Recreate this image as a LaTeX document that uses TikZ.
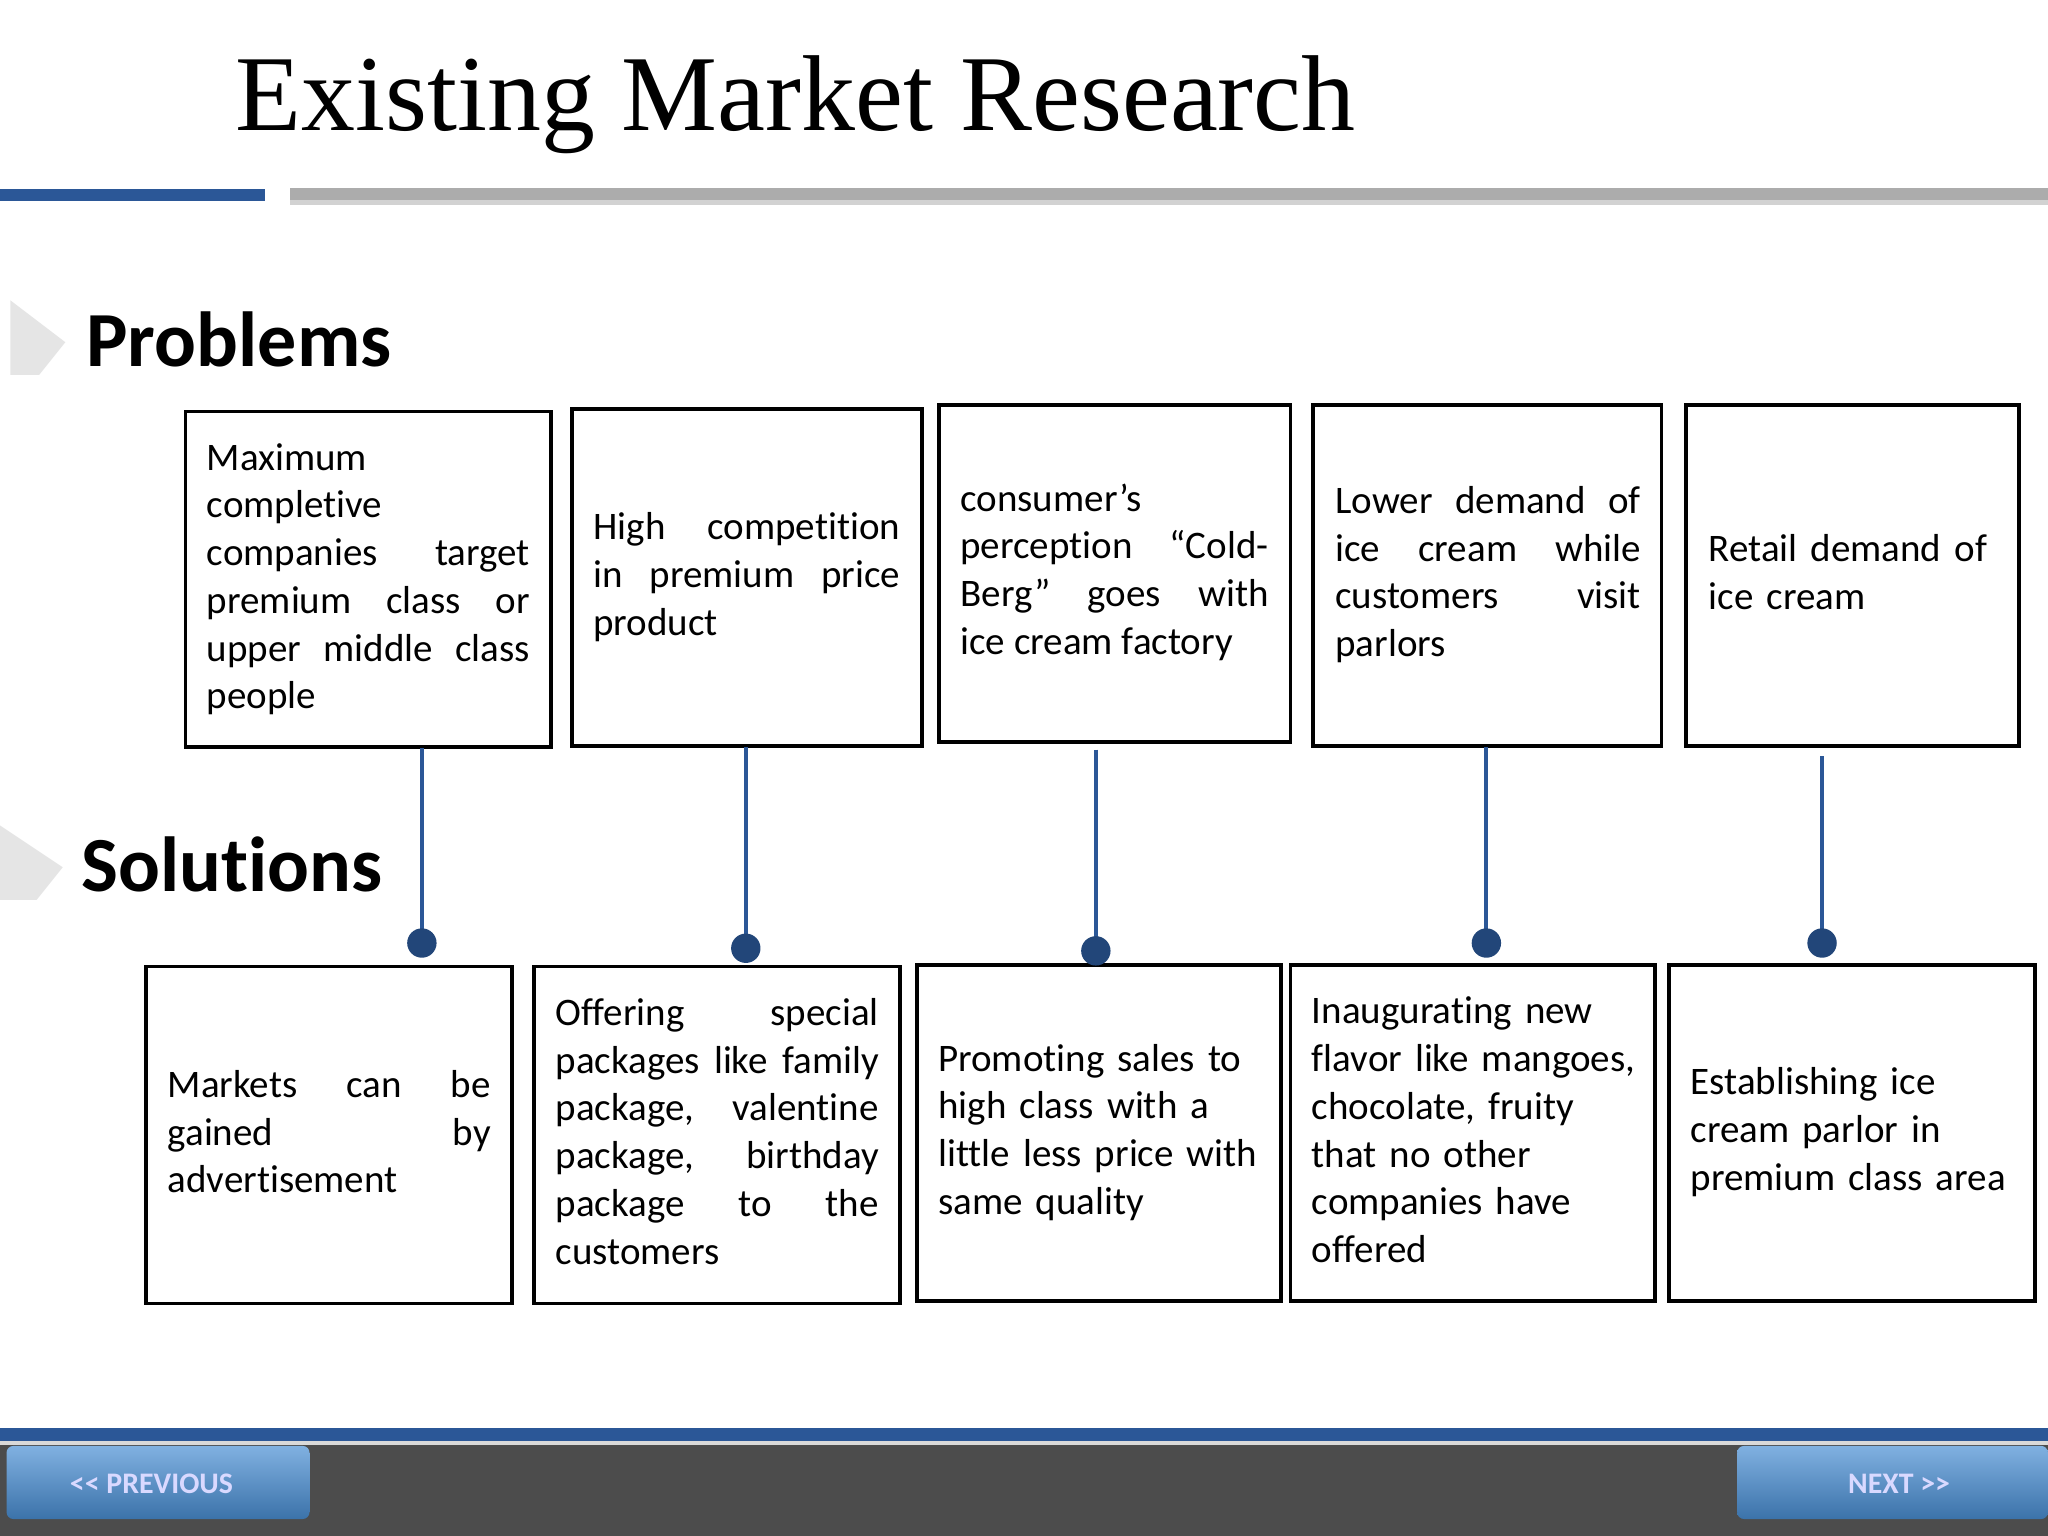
\documentclass[tikz,border=0pt]{standalone}
\usepackage{fontspec}
\setmainfont[Ligatures=NoCommon]{Carlito}
\newfontfamily\titlefont{Liberation Serif}
\definecolor{steel}{HTML}{2B5797}
\definecolor{btn}{HTML}{4A8FD4}
\hyphenpenalty=10000
\exhyphenpenalty=10000
\newcommand{\nohyph}{\hyphenpenalty=10000\relax\exhyphenpenalty=10000\relax}
\begin{document}
\begin{tikzpicture}[x=0.02cm,y=-0.02cm,
  txt/.style={anchor=north west,text width=4.95cm,align=justify,font=\fontsize{17}{20.8}\selectfont,execute at begin node=\nohyph,inner sep=0pt},
  link/.style={draw=steel,line width=1.8pt},
  dotc/.style={circle,fill=steel!80!black,inner sep=0pt,minimum size=0.45cm}]
\useasboundingbox (0,0) rectangle (1568,1176);
\fill[white] (0,0) rectangle (1568,1176);
% title
\node[anchor=west,font=\titlefont\fontsize{47}{55}\selectfont] (title) at (174,80) {Existing Market Research};
\fill[steel] (0,145) rectangle (203,154);
\fill[gray!65] (222,144) rectangle (1568,153);
\fill[gray!35] (222,153) rectangle (1568,157);
% headings
\fill[gray!20] (8,230) -- (50,262) -- (30,287) -- (8,287) -- cycle;
\node[anchor=west,font=\bfseries\fontsize{34}{38}\selectfont] (prob) at (60,260) {Problems};
\fill[gray!20] (0,632) -- (48,664) -- (28,689) -- (0,689) -- cycle;
\node[anchor=west,font=\bfseries\fontsize{34}{38}\selectfont] (sol) at (56,662) {Solutions};
% top boxes
\draw[line width=1.6pt] (142,315) rectangle (422,572);
\draw[line width=1.6pt] (438,313) rectangle (706,571);
\draw[line width=1.6pt] (719,310) rectangle (988,568);
\draw[line width=1.6pt] (1005,310) rectangle (1272,571);
\draw[line width=1.6pt] (1291,310) rectangle (1546,571);
\node[txt] (p1) at (158,339) {Maximum\\ completive\\ companies target\linebreak premium class or\linebreak upper middle class\linebreak people};
\node[txt,text width=4.7cm] (p2) at (454,392) {High competition\linebreak in premium price\linebreak product};
\node[txt,text width=4.72cm] (p3) at (735,370) {consumer’s\\ perception “Cold-\linebreak Berg” goes with\linebreak ice cream factory};
\node[txt,text width=4.68cm] (p4) at (1022,372) {Lower demand of\linebreak ice cream while\linebreak customers visit\linebreak parlors};
\node[txt,text width=4.6cm,align=left] (p5) at (1308,409) {Retail demand of\\ ice cream};
% bottom boxes
\draw[line width=1.6pt] (112,740) rectangle (392,998);
\draw[line width=1.6pt] (409,740) rectangle (689,998);
\draw[line width=1.6pt] (702,739) rectangle (981,996);
\draw[line width=1.6pt] (988,739) rectangle (1267,996);
\draw[line width=1.6pt] (1278,739) rectangle (1558,996);
\node[txt] (s1) at (128,819) {Markets can be\linebreak gained by\linebreak advertisement};
\node[txt] (s2) at (425,764) {Offering special\linebreak packages like family\linebreak package, valentine\linebreak package, birthday\linebreak package to the\linebreak customers};
\node[txt,text width=5.4cm,align=left] (s3) at (718,799) {Promoting sales to\\ high class with a\\ little less price with\\ same quality};
\node[txt,text width=5.4cm,align=left] (s4) at (1004,763) {Inaugurating new\\ flavor like mangoes,\\ chocolate, fruity\\ that no other\\ companies have\\ offered};
\node[txt,text width=5.4cm,align=left] (s5) at (1294,817) {Establishing ice\\ cream parlor in\\ premium class area};
% connectors
\foreach \x/\a/\b [count=\i] in {323/573/722, 571/572/726, 839/574/728, 1138/572/722, 1395/579/722}{
  \draw[link] (\x,\a) -- (\x,\b);
  \node[dotc] (d\i) at (\x,\b) {};
}
% bottom bar
\fill[gray!60!black] (0,1095) rectangle (1568,1176);
\fill[steel] (0,1093) rectangle (1568,1103);
\fill[gray!30] (0,1103) rectangle (1568,1106);
\shade[top color=btn!70!white,bottom color=btn!80!black,rounded corners=3pt] (5,1107) rectangle (237,1163);
\node[text=white!85!blue,font=\bfseries\fontsize{13}{15}\selectfont] (prev) at (116,1136) {<\kern0pt< PREVIOUS};
\shade[top color=btn!70!white,bottom color=btn!80!black,rounded corners=3pt] (1330,1107) rectangle (1568,1163);
\node[text=white!85!blue,font=\bfseries\fontsize{13}{15}\selectfont] (next) at (1454,1136) {NEXT >\kern0pt>};
\end{tikzpicture}
\end{document}
